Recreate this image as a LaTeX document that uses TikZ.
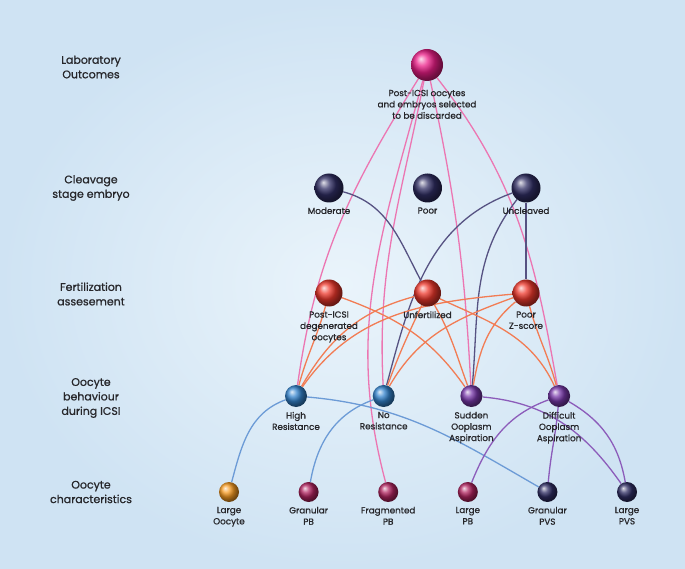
\documentclass[tikz,border=0pt]{standalone}
\usepackage{fontspec}
\setmainfont{Poppins}[FakeBold=0.9]
\pgfdeclarelayer{back}
\pgfdeclarelayer{links}
\pgfsetlayers{back,links,main}
\definecolor{bgin}{RGB}{234,244,251}
\definecolor{bgout}{RGB}{207,227,243}
\definecolor{txt}{RGB}{38,38,42}
\definecolor{magball}{RGB}{236,30,136}
\definecolor{navyball}{RGB}{48,46,100}
\definecolor{redball}{RGB}{238,56,44}
\definecolor{blueball}{RGB}{52,132,206}
\definecolor{purpball}{RGB}{120,56,170}
\definecolor{orangeball}{RGB}{248,156,34}
\definecolor{wineball}{RGB}{178,36,96}
\definecolor{pinkln}{RGB}{236,118,178}
\definecolor{navyln}{RGB}{86,82,130}
\definecolor{orangeln}{RGB}{242,124,84}
\definecolor{blueln}{RGB}{108,155,214}
\definecolor{purpln}{RGB}{140,92,186}

\begin{document}
\begin{tikzpicture}[x=1pt,y=1pt,label distance=4.5pt]
  \tikzstyle{ball}=[circle,inner sep=0pt,minimum size=22pt]
  \tikzstyle{every label}=[align=center,text=txt,inner sep=0pt,font=\fontsize{8.8}{11.3}\selectfont]
  \tikzstyle{rowname}=[align=center,text=txt,font=\fontsize{11}{14.5}\selectfont]
  \tikzstyle{link}=[line width=1.3pt]

  \begin{pgfonlayer}{back}
    \fill[inner color=bgin,outer color=bgout] (0,0) rectangle (685,-569);
  \end{pgfonlayer}

  \node[rowname] (r1) at (91,-67)  {Laboratory\\Outcomes};
  \node[rowname] (r2) at (91,-188) {Cleavage\\stage embryo};
  \node[rowname] (r3) at (91,-294) {Fertilization\\assesement};
  \node[rowname] (r4) at (91,-398) {Oocyte\\behaviour\\during ICSI};
  \node[rowname] (r5) at (91,-492) {Oocyte\\characteristics};

  \node[ball,ball color=magball,minimum size=32pt,
        label={[yshift=-4pt]below:{Post-ICSI oocytes\\and embryos selected\\to be discarded}}] (Disc) at (427,-65) {};

  \node[ball,ball color=navyball,minimum size=29pt,label=below:Moderate] (Mod) at (329,-188) {};
  \node[ball,ball color=navyball,minimum size=29pt,label=below:Poor]      (Poor) [right of=Mod,node distance=98.5pt] {};
  \node[ball,ball color=navyball,minimum size=29pt,label=below:Uncleaved] (Uncl) [right of=Poor,node distance=98.5pt] {};

  \node[ball,ball color=redball,minimum size=27pt,label=below:{Post-ICSI\\degenerated\\oocytes}] (Deg) at (329,-293) {};
  \node[ball,ball color=redball,minimum size=27pt,label=below:Unfertilized]      (Unf) [right of=Deg,node distance=98.5pt] {};
  \node[ball,ball color=redball,minimum size=27pt,label=below:{Poor\\Z-score}]   (Zsc) [right of=Unf,node distance=98.5pt] {};

  \node[ball,ball color=blueball,label=below:{High\\Resistance}] (HiR) at (296,-396) {};
  \node[ball,ball color=blueball,label=below:{No\\Resistance}]   (NoR) [right of=HiR,node distance=87.7pt] {};
  \node[ball,ball color=purpball,label=below:{Sudden\\Ooplasm\\Aspiration}]    (Sud) [right of=NoR,node distance=87.7pt] {};
  \node[ball,ball color=purpball,label=below:{Difficult\\Ooplasm\\Aspiration}] (Dif) [right of=Sud,node distance=87.7pt] {};

  \node[ball,ball color=orangeball,minimum size=20pt,label=below:{Large\\Oocyte}] (LOo) at (229,-492) {};
  \node[ball,ball color=wineball,minimum size=20pt,label=below:{Granular\\PB}]    (GPB) [right of=LOo,node distance=79.6pt] {};
  \node[ball,ball color=wineball,minimum size=20pt,label=below:{Fragmented\\PB}]  (FPB) [right of=GPB,node distance=79.6pt] {};
  \node[ball,ball color=wineball,minimum size=20pt,label=below:{Large\\PB}]       (LPB) [right of=FPB,node distance=79.6pt] {};
  \node[ball,ball color=navyball,minimum size=20pt,label=below:{Granular\\PVS}]   (GPV) [right of=LPB,node distance=79.6pt] {};
  \node[ball,ball color=navyball,minimum size=20pt,label=below:{Large\\PVS}]      (LPV) [right of=GPV,node distance=79.6pt] {};

  \begin{pgfonlayer}{links}
  \path[link,pinkln] (Disc) edge [out=-122,in=82]  (HiR)
                (Disc) edge [out=-105,in=105] (FPB)
                (Disc) edge [out=-101,in=93]  (NoR)
                (Disc) edge [out=-78,in=93]   (Sud)
                (Disc) edge [out=-52,in=100]  (Dif);
  \path[link,navyln] (Mod)  edge [out=-15,in=118]  (Unf)
                (Uncl) edge [out=200,in=75]   (NoR)
                (Uncl) edge [out=-128,in=85]  (Sud)
                (Uncl) edge                   (Zsc);
  \path[link,orangeln] (Deg) edge [out=-105,in=75] (HiR)
                (Deg) edge [out=-20,in=125]   (Sud)
                (Unf) edge [out=195,in=60]    (HiR)
                (Unf) edge [out=-115,in=70]   (NoR)
                (Unf) edge [out=-60,in=110]   (Sud)
                (Unf) edge [out=-25,in=115]   (Dif)
                (Zsc) edge [out=185,in=55]    (HiR)
                (Zsc) edge [out=200,in=60]    (NoR)
                (Zsc) edge [out=-140,in=80]   (Sud)
                (Zsc) edge [out=-75,in=105]   (Dif);
  \path[link,blueln] (HiR) edge [out=200,in=75]    (LOo)
                (HiR) edge [out=-5,in=150]    (GPV)
                (NoR) edge [out=200,in=80]    (GPB);
  \path[link,purpln] (Sud) edge [out=-5,in=125]    (LPV)
                (Dif) edge [out=200,in=68]    (LPB)
                (Dif) edge [out=-95,in=85]    (GPV)
                (Dif) edge [out=-30,in=100]   (LPV);
  \end{pgfonlayer}
\end{tikzpicture}
\end{document}
